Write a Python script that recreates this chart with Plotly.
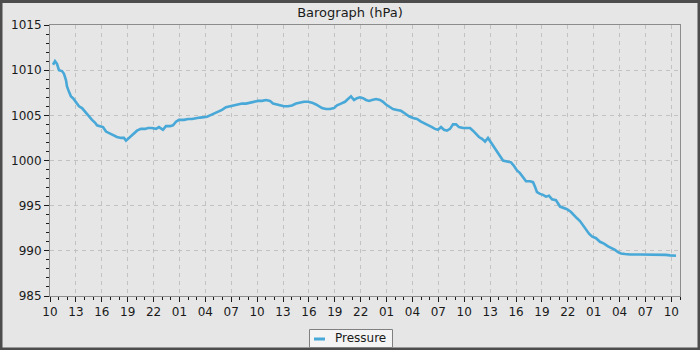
import datetime as dt
import plotly.graph_objects as go

# hours since the first 10:00 tick
hours = [0.35, 0.58, 0.81, 1.04, 1.39, 1.62, 1.85, 1.97, 2.20, 2.43, 2.67, 3.01, 3.36, 3.71, 4.06, 4.29,
         4.63, 4.87, 5.21, 5.45, 5.79, 6.14, 6.49, 6.95, 7.42, 7.76, 8.23, 8.57, 8.81, 9.04, 9.39, 9.73,
         10.08, 10.54, 11.01, 11.36, 11.82, 12.28, 12.63, 13.09, 13.44, 13.90, 14.25, 14.60, 14.95, 15.53,
         15.99, 16.45, 16.92, 17.38, 17.84, 18.19, 18.54, 19.00, 19.47, 19.93, 20.39, 20.86, 21.32, 21.78,
         22.25, 22.71, 23.17, 23.64, 24.10, 24.57, 25.03, 25.49, 25.84, 26.30, 26.65, 27.11, 27.58, 28.04,
         28.51, 28.97, 29.43, 29.90, 30.36, 30.82, 31.17, 31.52, 31.98, 32.44, 32.91, 33.26, 33.72, 34.18,
         34.53, 34.88, 35.23, 35.57, 35.92, 36.27, 36.62, 36.96, 37.31, 37.78, 38.24, 38.59, 38.93, 39.28,
         39.74, 40.21, 40.67, 41.14, 41.60, 42.06, 42.53, 42.99, 43.45, 43.92, 44.26, 44.61, 44.96, 45.31,
         45.65, 46.00, 46.35, 46.70, 47.05, 47.39, 47.86, 48.32, 48.67, 49.01, 49.36, 49.71, 50.06, 50.41,
         50.75, 51.10, 51.45, 51.80, 52.14, 52.49, 52.95, 53.42, 53.77, 54.11, 54.46, 54.81, 55.16, 55.62,
         55.97, 56.20, 56.43, 56.78, 57.13, 57.47, 57.82, 58.17, 58.63, 59.10, 59.44, 59.91, 60.37, 60.72,
         61.07, 61.41, 61.76, 62.11, 62.46, 62.80, 63.27, 63.73, 64.19, 64.66, 65.12, 65.47, 65.82, 66.16,
         66.63, 67.21, 68.37, 69.52, 70.68, 71.38, 71.84, 72.19, 72.54]

pressure = [1010.6, 1011.0, 1010.7, 1010.0, 1009.9, 1009.6, 1008.9, 1008.2, 1007.6, 1007.1, 1006.9, 1006.4,
            1006.0, 1005.8, 1005.4, 1005.1, 1004.8, 1004.5, 1004.2, 1003.9, 1003.8, 1003.7, 1003.2, 1003.0,
            1002.8, 1002.6, 1002.5, 1002.5, 1002.2, 1002.4, 1002.8, 1003.1, 1003.3, 1003.5, 1003.5, 1003.6,
            1003.6, 1003.5, 1003.7, 1003.4, 1003.8, 1003.8, 1003.9, 1004.3, 1004.5, 1004.5, 1004.6, 1004.6,
            1004.7, 1004.75, 1004.8, 1004.85, 1005.0, 1005.2, 1005.4, 1005.6, 1005.9, 1006.0, 1006.1, 1006.2,
            1006.3, 1006.3, 1006.4, 1006.5, 1006.6, 1006.6, 1006.7, 1006.6, 1006.3, 1006.2, 1006.1, 1006.0,
            1006.0, 1006.1, 1006.3, 1006.4, 1006.5, 1006.5, 1006.4, 1006.2, 1006.0, 1005.8, 1005.7, 1005.7,
            1005.8, 1006.1, 1006.3, 1006.5, 1006.8, 1007.1, 1006.7, 1006.9, 1007.0, 1006.9, 1006.7, 1006.6,
            1006.7, 1006.8, 1006.7, 1006.5, 1006.2, 1006.0, 1005.7, 1005.6, 1005.5, 1005.2, 1004.9, 1004.7,
            1004.6, 1004.3, 1004.1, 1003.9, 1003.7, 1003.5, 1003.4, 1003.7, 1003.4, 1003.3, 1003.5, 1004.0,
            1004.0, 1003.7, 1003.6, 1003.6, 1003.6, 1003.3, 1002.9, 1002.6, 1002.4, 1002.1, 1002.5, 1002.0,
            1001.5, 1000.9, 1000.4, 1000.0, 999.9, 999.8, 999.4, 998.9, 998.6, 998.1, 997.7, 997.7,
            997.6, 997.1, 996.5, 996.3, 996.2, 996.0, 996.1, 995.7, 995.6, 994.9, 994.8, 994.6,
            994.3, 993.9, 993.6, 993.3, 992.8, 992.3, 991.9, 991.6, 991.4, 991.0, 990.8, 990.5,
            990.3, 990.1, 989.85, 989.7, 989.65, 989.6, 989.6, 989.6, 989.6, 989.55, 989.5, 989.45, 989.45]

series_name = "Pressure"
line_color = "#48a8d8"

base = dt.datetime(2024, 3, 1, 10, 0)
times = [base + dt.timedelta(hours=h) for h in hours]

fig = go.Figure()
fig.add_trace(go.Scatter(x=times, y=pressure, mode="lines", name=series_name,
                         line=dict(color=line_color, width=2.6), showlegend=False))

W, H = 700, 350
ml, mr, mt, mb = 50, 20, 25, 54
pw, ph = W - ml - mr, H - mt - mb


def px(x):
    return (x - ml) / pw


def py(y):
    return (H - mb - y) / ph


grid = dict(showgrid=True, gridcolor="#c2c2c2", gridwidth=1, griddash="4px,4px")

fig.update_layout(
    width=W, height=H,
    margin=dict(l=ml, r=mr, t=mt, b=mb, pad=0, autoexpand=False),
    paper_bgcolor="#e6e6e6", plot_bgcolor="#e6e6e6",
    font=dict(family="DejaVu Sans", size=12, color="#1a1a1a"),
    title=dict(text="Barograph (hPa)", x=0.5, xanchor="center", xref="container",
               y=1 - 12 / H, yanchor="middle", yref="container",
               font=dict(size=13, color="#1a1a1a")),
    showlegend=False,
    xaxis=dict(type="date", range=[base, base + dt.timedelta(hours=73)],
               tick0=base, dtick=3 * 3600000, tickformat="%H",
               ticks="outside", ticklen=5, tickcolor="#1a1a1a", tickwidth=1,
               showline=True, linecolor="#8c8c8c", linewidth=1, mirror=True,
               zeroline=False,
               minor=dict(dtick=3600000, ticks="outside", ticklen=3, tickcolor="#1a1a1a",
                          showgrid=False),
               **grid),
    yaxis=dict(range=[985, 1015], dtick=5, tick0=985,
               ticks="outside", ticklen=5, tickcolor="#1a1a1a", tickwidth=1,
               showline=True, linecolor="#8c8c8c", linewidth=1, mirror=True,
               zeroline=False,
               minor=dict(dtick=1, ticks="outside", ticklen=3, tickcolor="#1a1a1a",
                          showgrid=False),
               **grid),
)

# outer frame of the figure
fig.add_shape(type="rect", xref="paper", yref="paper",
              x0=px(1), x1=px(W - 1), y0=py(H - 1), y1=py(1.5),
              line=dict(color="#4d4d4d", width=3), layer="above")

# legend box (drawn by hand so it fits the small bottom strip)
fig.add_shape(type="rect", xref="paper", yref="paper",
              x0=px(309.5), x1=px(392.5), y0=py(347.5), y1=py(329.5),
              fillcolor="#f4f4f4", line=dict(color="#808080", width=1), layer="above")
fig.add_shape(type="line", xref="paper", yref="paper",
              x0=px(314), x1=px(325), y0=py(339), y1=py(339),
              line=dict(color=line_color, width=3), layer="above")
fig.add_annotation(text=series_name, xref="paper", yref="paper",
                   x=px(333), y=py(338), xanchor="left", yanchor="middle",
                   showarrow=False, font=dict(size=12, color="#1a1a1a"))

fig.write_html("out.html")
